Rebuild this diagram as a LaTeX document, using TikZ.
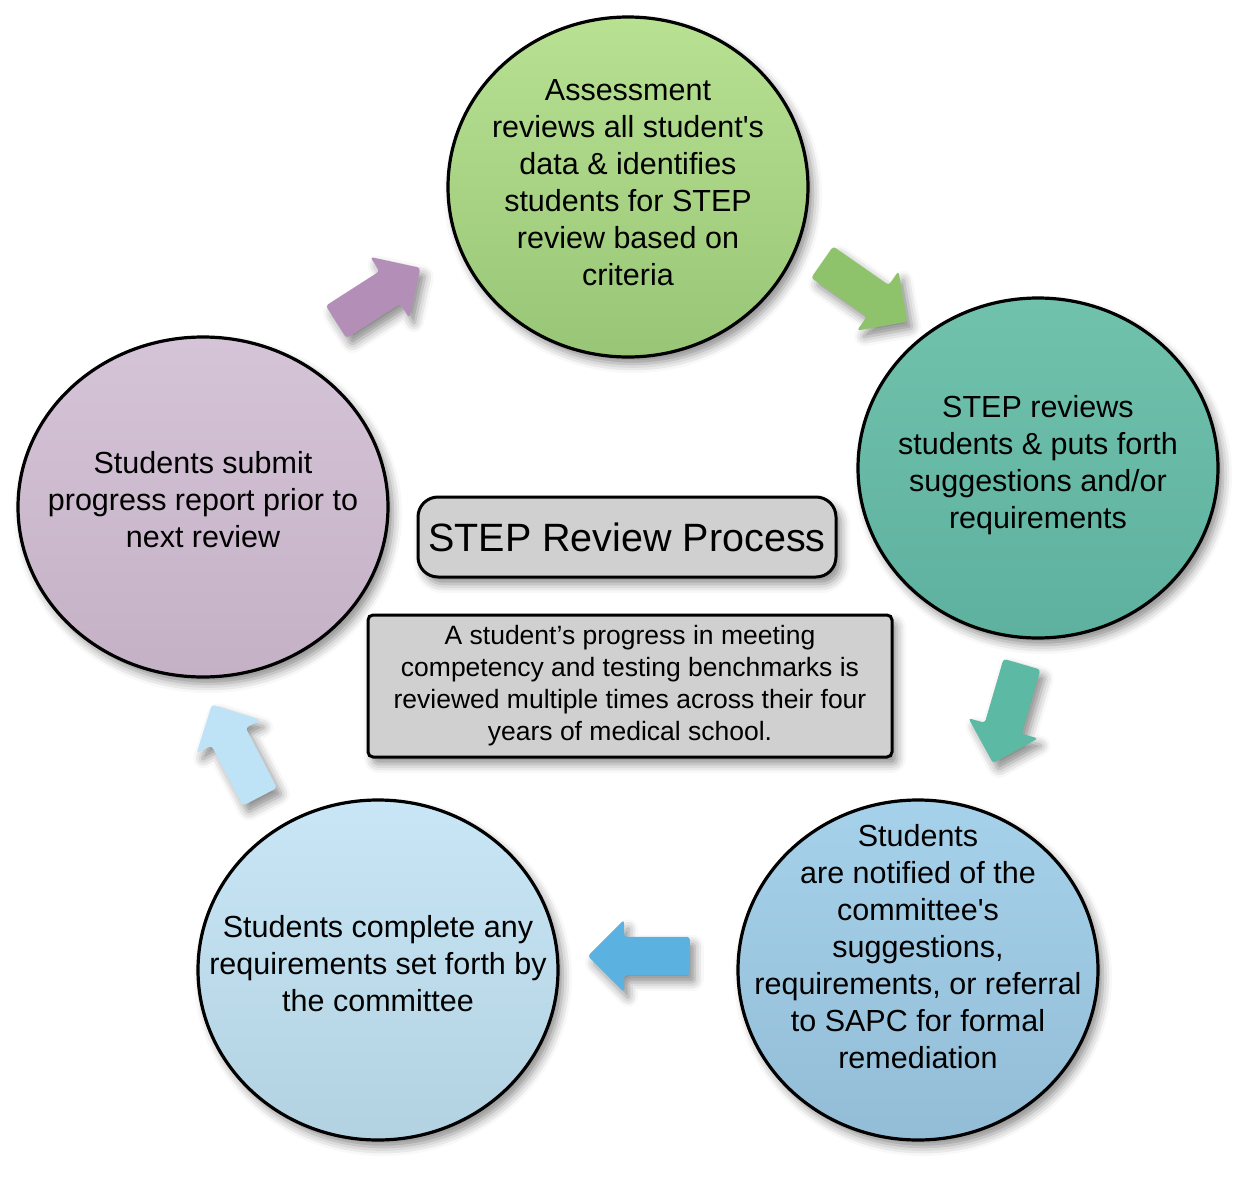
\documentclass[tikz,border=0pt]{standalone}
\usepackage{fontspec}
\setmainfont{Liberation Sans}
\usetikzlibrary{shapes.geometric,shapes.arrows,shadows.blur}
\definecolor{gTop}{HTML}{B8E192}
\definecolor{gBot}{HTML}{98C676}
\definecolor{tTop}{HTML}{70C2AC}
\definecolor{tBot}{HTML}{5EB19F}
\definecolor{bTop}{HTML}{A6D1EA}
\definecolor{bBot}{HTML}{93BDD7}
\definecolor{lTop}{HTML}{C8E6F5}
\definecolor{lBot}{HTML}{B3D2E1}
\definecolor{pTop}{HTML}{D5C3D7}
\definecolor{pBot}{HTML}{C4B1C5}
\definecolor{aGreen}{HTML}{8FC36B}
\definecolor{aTeal}{HTML}{5CB9A3}
\definecolor{aBlue}{HTML}{5BB1DF}
\definecolor{aLight}{HTML}{BFE3F6}
\definecolor{aPurple}{HTML}{B38FB7}
\definecolor{boxFill}{HTML}{D0D0D0}
\begin{document}
\begin{tikzpicture}[x=1pt,y=-1pt,
  softshadow/.style={blur shadow={shadow xshift=5pt, shadow yshift=-7pt, shadow blur radius=9pt, shadow opacity=45}},
  circ/.style={ellipse, draw=black, line width=3.2pt, minimum width=360pt, minimum height=340pt,
    inner sep=0pt, softshadow},
  ctext/.style={align=center, font=\fontsize{30.5}{37}\selectfont, inner sep=0pt},
  barrow/.style={single arrow, draw=none, fill=#1, single arrow head extend=17pt,
    inner xsep=0pt, inner ysep=19pt, rounded corners=3pt, anchor=tail, softshadow},
]
\useasboundingbox (0,0) rectangle (1243,1191);

% circles
\node[circ, top color=gTop, bottom color=gBot] (assess) at (628,187) {};
\node[ctext] (assesstext) at (628,183)
  {Assessment\\reviews all student\textquotesingle s\\data \& identifies\\students for STEP\\review based on\\criteria};
\node[circ, top color=tTop, bottom color=tBot] (stepr) at (1038,468) {};
\node[ctext] (steprtext) at (1038,465)
  {STEP reviews\\students \& puts forth\\suggestions and/or\\requirements};
\node[circ, top color=bTop, bottom color=bBot] (notify) at (918,970) {};
\node[ctext] (notifytext) at (918,947)
  {Students\\are notified of the\\committee\textquotesingle s\\suggestions,\\requirements, or referral\\to SAPC for formal\\remediation};
\node[circ, top color=lTop, bottom color=lBot] (complete) at (378,970) {};
\node[ctext] (completetext) at (378,964)
  {Students complete any\\requirements set forth by\\the committee};
\node[circ, top color=pTop, bottom color=pBot, minimum width=370pt] (submit) at (203,507) {};
\node[ctext] (submittext) at (203,500)
  {Students submit\\progress report prior to\\next review};

% arrows
\node[barrow=aGreen, minimum height=104pt, rotate=-34.9] (a1) at (822,262) {};
\node[barrow=aTeal, minimum height=103pt, rotate=-106.3] (a2) at (1022,664) {};
\node[barrow=aBlue, minimum height=102pt, rotate=180] (a3) at (690,956) {};
\node[barrow=aLight, minimum height=104pt, rotate=117.5] (a4) at (260,797) {};
\node[barrow=aPurple, minimum height=100pt, rotate=32.7] (a5) at (336,322) {};

% title and description
\node[draw=black, line width=3pt, fill=boxFill, rounded corners=20pt, minimum width=418pt, minimum height=80pt,
  inner sep=0pt, font=\fontsize{39.5}{46}\selectfont, softshadow] (title) at (627,537) {STEP Review Process};
\node[draw=black, line width=3pt, fill=boxFill, rounded corners=5pt, minimum width=524pt, minimum height=142pt,
  inner sep=0pt, align=center, font=\fontsize{26.5}{32}\selectfont, softshadow] (desc) at (630,686)
  {A student’s progress in meeting\\competency and testing benchmarks is\\reviewed multiple times across their four\\years of medical school.};
\end{tikzpicture}
\end{document}
